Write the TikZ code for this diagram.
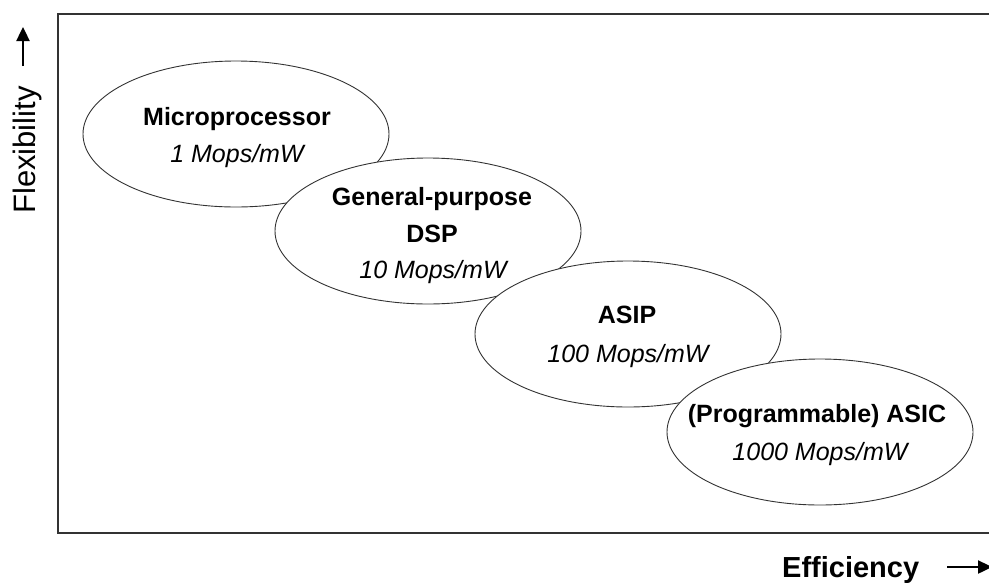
\documentclass[tikz,border=0pt]{standalone}
\usepackage{fontspec}
\setmainfont{Liberation Sans}
\usetikzlibrary{shapes.geometric,arrows.meta}

\tikzset{
  blob/.style={ellipse, draw=black!80, line width=0.9pt, fill=white,
               minimum width=306pt, minimum height=146pt, inner sep=0pt},
  title/.style={anchor=base, inner sep=0pt, font=\fontsize{25pt}{30pt}\selectfont\bfseries},
  rate/.style={anchor=base, inner sep=0pt, font=\fontsize{25pt}{30pt}\selectfont\itshape},
  axislabel/.style={inner sep=0pt},
  frameline/.style={draw=black!80, line width=1.6pt},
  axisarrow/.style={line width=2.4pt, -{Triangle[length=14pt,width=13pt]}}
}

\begin{document}
\begin{tikzpicture}[x=1pt,y=-1pt]
  \useasboundingbox (0,0) rectangle (989,582);
  \clip (0,0) rectangle (989,582);

  % plot frame (open to the right)
  \coordinate (ftr) at (995,14);
  \coordinate (ftl) at (58,14);
  \coordinate (fbl) at (58,533);
  \coordinate (fbr) at (995,533);
  \draw[frameline] (ftr) -- (ftl) -- (fbl) -- (fbr);

  % processor classes, later ones drawn over earlier ones
  \node[blob] (mp)   at (236,134) {};
  \node[title] (mpname) at (237,125) {Microprocessor};
  \node[rate]  (mprate) at (237,162) {1 Mops/mW};

  \node[blob] (dsp)  at (428,231) {};
  \node[title] (dspname1) at (432,205) {General-purpose};
  \node[title] (dspname2) at (432,242) {DSP};
  \node[rate]  (dsprate)  at (433,278) {10 Mops/mW};

  \node[blob] (asip) at (628,334) {};
  \node[title] (asipname) at (627,323) {ASIP};
  \node[rate]  (asiprate) at (628,362) {100 Mops/mW};

  \node[blob] (asic) at (820,432) {};
  \node[title] (asicname) at (817,422) {(Programmable) ASIC};
  \node[rate]  (asicrate) at (820,460) {1000 Mops/mW};

  % axis labels
  \node[axislabel, rotate=90, anchor=base, font=\fontsize{31pt}{36pt}\selectfont]
       (flex) at (35,150) {Flexibility};
  \coordinate (fa0) at (23,66);
  \coordinate (fa1) at (23,27);
  \draw[axisarrow] (fa0) -- (fa1);

  \node[axislabel, anchor=base west, font=\fontsize{29pt}{34pt}\selectfont\bfseries]
       (eff) at (782,577) {Efficiency};
  \coordinate (ea0) at (947,567);
  \coordinate (ea1) at (992,567);
  \draw[axisarrow] (ea0) -- (ea1);
\end{tikzpicture}
\end{document}
